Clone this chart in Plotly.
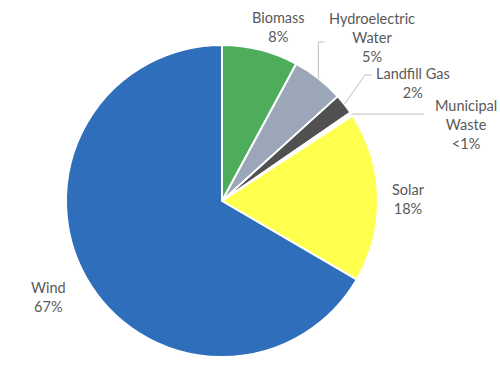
import math
import plotly.graph_objects as go

# ---- data ----
labels = ["Biomass", "Hydroelectric<br>Water", "Landfill Gas", "Municipal<br>Waste", "Solar", "Wind"]
values = [7.9, 5.4, 2.1, 0.4, 17.6, 66.6]
colors = ["#4EAD5B", "#9BA6B9", "#505050", "#FFFFFF", "#FFFF4D", "#2F6EBA"]

total = sum(values)
pct_text = []
for v in values:
    p = v / total * 100
    pct_text.append("<1%" if p < 1 else f"{int(p + 0.5)}%")

# ---- layout constants (pixels) ----
W, H = 500, 383
CX, CY, R = 222, 201, 156

def px(x):
    return x / W

def py(y):
    return 1 - y / H

fig = go.Figure(go.Pie(
    labels=labels,
    values=values,
    sort=False,
    direction="clockwise",
    rotation=0,
    textinfo="none",
    hoverinfo="label+percent",
    marker=dict(colors=colors, line=dict(color="#FFFFFF", width=2)),
    domain=dict(x=[px(CX - R), px(CX + R)], y=[py(CY + R), py(CY - R)]),
    showlegend=False,
))

# slice mid-angles (degrees clockwise from 12 o'clock)
mids = []
cum = 0
for v in values:
    mids.append((cum + v / 2) / total * 360)
    cum += v

def edge(i, r=R):
    a = math.radians(mids[i])
    return CX + r * math.sin(a), CY - r * math.cos(a)

# label placements (pixel centers of text block)
label_pos = [
    (278, 27),   # Biomass
    (372, 37),   # Hydro
    (413, 83),   # Landfill
    (466, 124),  # Municipal
    (408, 199),  # Solar
    (48, 297),   # Wind
]

font = dict(family="Lato, Carlito, sans-serif", size=14.5, color="#595959")
for i, (lx, ly) in enumerate(label_pos):
    fig.add_annotation(
        x=px(lx), y=py(ly), xref="paper", yref="paper",
        text=f"{labels[i]}<br>{pct_text[i]}",
        showarrow=False, font=font, align="center",
        xanchor="center", yanchor="middle",
    )

# leader lines
line_style = dict(color="#BFBFBF", width=1)
# Hydro: vertical up then short horizontal
x0, y0 = edge(1)
path = f"M {px(x0)} {py(y0)} L {px(x0)} {py(42)} L {px(x0 + 6)} {py(42)}"
fig.add_shape(type="path", path=path, xref="paper", yref="paper", line=line_style)
# Landfill: diagonal then short horizontal
x0, y0 = edge(2)
path = f"M {px(x0)} {py(y0)} L {px(365)} {py(75)} L {px(372)} {py(75)}"
fig.add_shape(type="path", path=path, xref="paper", yref="paper", line=line_style)
# Municipal: horizontal
x0, y0 = edge(3)
path = f"M {px(x0)} {py(y0)} L {px(424)} {py(y0)}"
fig.add_shape(type="path", path=path, xref="paper", yref="paper", line=line_style)

fig.update_layout(
    width=W, height=H,
    margin=dict(l=0, r=0, t=0, b=0),
    paper_bgcolor="#FFFFFF",
    plot_bgcolor="#FFFFFF",
)

fig.write_html("out.html")
